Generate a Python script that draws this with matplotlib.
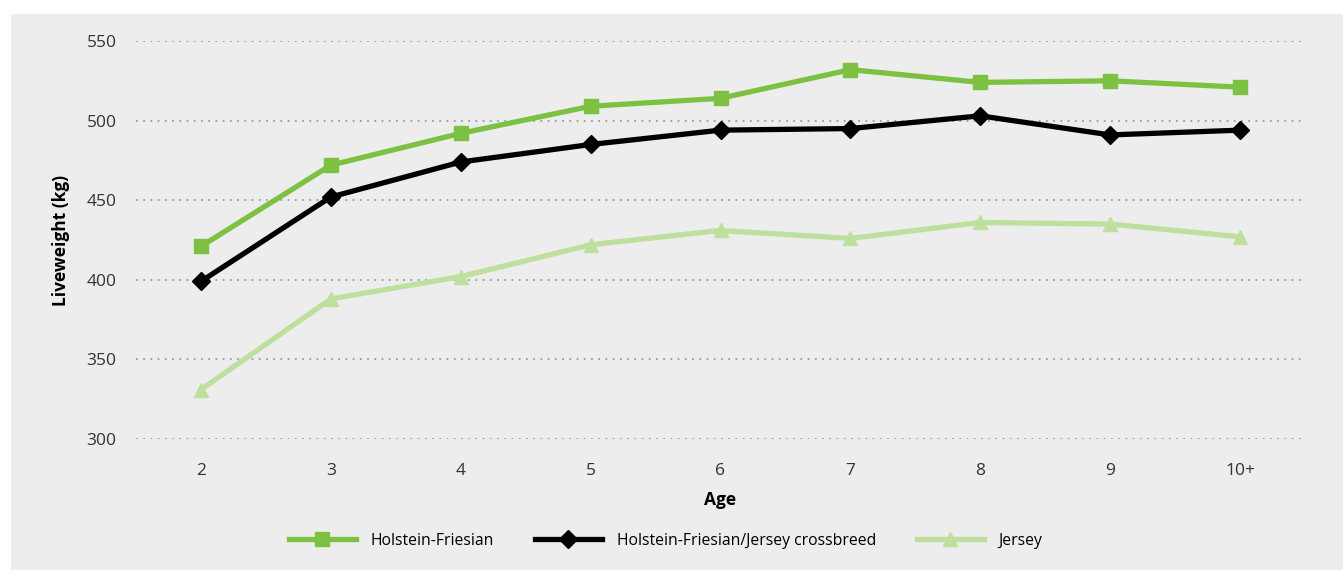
import numpy as np
import matplotlib.pyplot as plt
from matplotlib.patches import Rectangle

# data
ages = ['2', '3', '4', '5', '6', '7', '8', '9', '10+']
holstein = [421, 472, 492, 509, 514, 532, 524, 525, 521]
crossbreed = [399, 452, 474, 485, 494, 495, 503, 491, 494]
jersey = [331, 388, 402, 422, 431, 426, 436, 435, 427]

plt.rcParams['font.family'] = ['Open Sans', 'DejaVu Sans']

bg = '#ededed'
fig = plt.figure(figsize=(13.43, 5.70), dpi=100)
fig.patch.set_facecolor('white')
fig.patches.append(Rectangle((11 / 1343, 0), 1, 1 - 14 / 570,
                             transform=fig.transFigure, facecolor=bg,
                             edgecolor='none', zorder=-10))

ax = fig.add_axes([136 / 1343, 1 - 439 / 570, (1305 - 136) / 1343, (439 - 41) / 570])
ax.set_facecolor(bg)

x = np.arange(len(ages))
ax.plot(x, holstein, color='#7dc142', lw=3.8, marker='s', ms=9.5,
        label='Holstein-Friesian', zorder=3)
ax.plot(x, crossbreed, color='black', lw=3.8, marker='D', ms=9,
        label='Holstein-Friesian/Jersey crossbreed', zorder=3)
ax.plot(x, jersey, color='#bfdf9f', lw=3.8, marker='^', ms=10,
        label='Jersey', zorder=3)

ax.set_xlim(-0.5, 8.5)
ax.set_ylim(300, 550)
ax.set_yticks(np.arange(300, 551, 50))
ax.set_xticks(x)
ax.set_xticklabels(ages)
ax.yaxis.grid(True, color='#9a9a9a', linestyle=(0, (1, 3)), lw=1.3)
ax.set_axisbelow(True)
for s in ax.spines.values():
    s.set_visible(False)
ax.tick_params(length=0, labelsize=12.5, colors='#333333')
ax.tick_params(axis='x', pad=17)
ax.tick_params(axis='y', pad=14)

ax.set_ylabel('Liveweight (kg)', fontsize=12.5, fontweight='bold', labelpad=12)
ax.set_xlabel('Age', fontsize=12.5, fontweight='bold', labelpad=9)

leg = ax.legend(loc='center', bbox_to_anchor=(0.453, -0.256), ncol=3, frameon=False,
                fontsize=11.3, handlelength=4.27, handletextpad=0.95,
                columnspacing=2.6)

fig.savefig('out.png', dpi=100)
